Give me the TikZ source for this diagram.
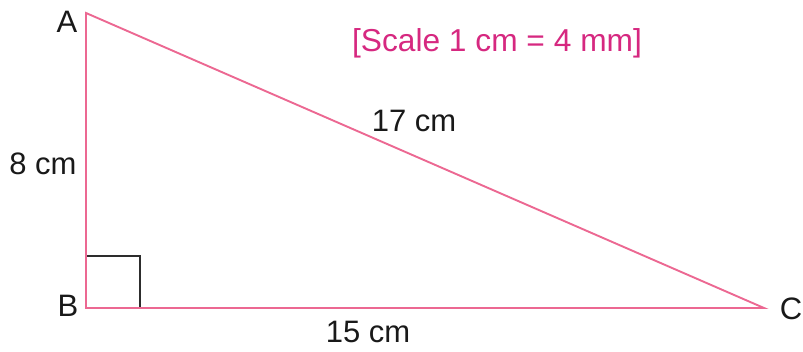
\documentclass[tikz,border=0pt]{standalone}
\usepackage{fontspec}
\setmainfont{Liberation Sans}
\definecolor{edgepink}{RGB}{236,104,146}
\definecolor{scalemag}{RGB}{214,40,128}
\definecolor{sqgray}{RGB}{45,45,45}
\begin{document}
\begin{tikzpicture}[x=1pt,y=1pt,
  side/.style={draw=edgepink,line width=1.9pt,line join=miter},
  lbl/.style={font=\fontsize{31}{37}\selectfont,text=black!90,inner sep=0pt,anchor=base},
  rtmark/.style={draw=sqgray,line width=1.4pt}]
\useasboundingbox (0,0) rectangle (803,352);
\coordinate (A) at (86,339);
\coordinate (B) at (86,44);
\coordinate (C) at (764,44);
\coordinate (S1) at (86,96);
\coordinate (S2) at (140,96);
\coordinate (S3) at (140,44);
\draw[rtmark] (S1) -- (S2) -- (S3);
\draw[side] (A) -- (B) -- (C) -- cycle;
\node[lbl] (la) at (67,319) {A};
\node[lbl] (lb) at (68,35) {B};
\node[lbl] (lc) at (791,32) {C};
\node[lbl] (l8) at (43,177) {8 cm};
\node[lbl] (l15) at (368,9) {15 cm};
\node[lbl] (l17) at (414,220) {17 cm};
\node[lbl,text=scalemag,font=\fontsize{31.7}{38}\selectfont] (sc) at (497,300) {[Scale 1 cm = 4 mm]};
\end{tikzpicture}
\end{document}
